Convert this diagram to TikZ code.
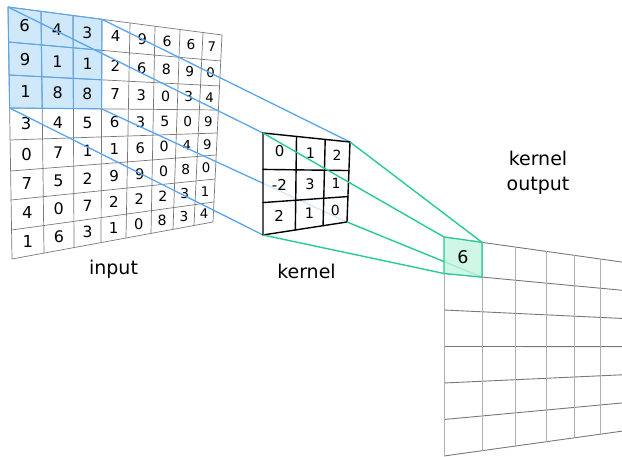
\documentclass[tikz,border=0pt]{standalone}
\usepackage{fontspec}
\setmainfont{DejaVu Sans}
\usetikzlibrary{calc}
\definecolor{cblue}{RGB}{88,166,242}
\definecolor{cbluefill}{RGB}{207,233,251}
\definecolor{cgreen}{RGB}{38,204,150}
\definecolor{cgreenfill}{RGB}{196,245,224}
\definecolor{gridgray}{RGB}{120,120,120}
\definecolor{gridlight}{RGB}{175,175,175}
\begin{document}
\begin{tikzpicture}[x=1pt,y=-1pt,
  ingrid/.style={draw=gridgray,line width=0.7pt},
  hlgrid/.style={draw=cblue,line width=1pt},
  bline/.style={draw=cblue,line width=1.3pt},
  gline/.style={draw=cgreen,line width=1.4pt},
  kline/.style={draw=black,line width=1.4pt,line cap=round},
  ohline/.style={draw=gridgray,line width=0.9pt},
  ovline/.style={draw=gridlight,line width=1pt},
  lbl/.style={font=\fontsize{19}{25}\selectfont,inner sep=0pt},
  digit/.style={inner sep=0pt}]
\useasboundingbox (0,0) rectangle (622,457);

% ---------- input grid geometry ----------
\foreach \i/\tx/\bx in {0/8/12,1/41/44,2/73/74,3/102/101,4/130/126,5/155/151,6/180/173,7/203/194,8/222/213} {
  \pgfmathsetmacro\ty{7+28*(\tx-8)/214}
  \pgfmathsetmacro\by{259-37*(\bx-12)/201}
  \coordinate (IT\i) at (\tx,\ty);
  \coordinate (IB\i) at (\bx,\by);
}
\foreach \j/\ly/\ry in {0/7/35,1/42/61,2/75/86,3/108/110,4/140/133,5/171/155,6/200/179,7/230/202,8/259/222} {
  \pgfmathsetmacro\lx{8+4*(\ly-7)/252}
  \pgfmathsetmacro\rx{222-9*(\ry-35)/187}
  \coordinate (IL\j) at (\lx,\ly);
  \coordinate (IR\j) at (\rx,\ry);
}
\foreach \i in {0,...,8} {
  \foreach \j in {0,...,8} {
    \coordinate (P-\i-\j) at (intersection cs: first line={(IT\i)--(IB\i)}, second line={(IL\j)--(IR\j)});
  }
}

% highlight
\fill[cbluefill] (P-0-0)--(P-3-0)--(P-3-3)--(P-0-3)--cycle;
\foreach \j in {0,...,8} \draw[ingrid] (P-0-\j)--(P-8-\j);
\foreach \i in {0,...,8} \draw[ingrid] (P-\i-0)--(P-\i-8);
\foreach \k in {0,...,3} {
  \draw[hlgrid] (P-0-\k)--(P-3-\k);
  \draw[hlgrid] (P-\k-0)--(P-\k-3);
}

% input digits
\foreach \row [count=\j from 0] in {{6,4,3,4,9,6,6,7},{9,1,1,2,6,8,9,0},{1,8,8,7,3,0,3,4},{3,4,5,6,3,5,0,9},{0,7,1,1,6,0,4,9},{7,5,2,9,9,0,8,0},{4,0,7,2,2,2,3,1},{1,6,3,1,0,8,3,4}} {
  \foreach \d [count=\i from 0] in \row {
    \pgfmathtruncatemacro\ii{\i+1}
    \pgfmathtruncatemacro\jj{\j+1}
    \pgfmathsetmacro\fs{16.4-0.45*\i}
    \node[digit,font=\fontsize{\fs}{\fs}\selectfont] (in-\i-\j) at ($(P-\i-\j)!0.5!(P-\ii-\jj)$) {\d};
  }
}

% ---------- kernel geometry ----------
\foreach \i/\t in {0/0,1/0.385,2/0.715,3/1} {
  \coordinate (KT\i) at ($(263,133)!\t!(350,142)$);
  \coordinate (KB\i) at ($(263,235)!\t!(347,222)$);
}
\foreach \j/\t in {0/0,1/0.357,2/0.682,3/1} {
  \coordinate (KL\j) at ($(263,133)!\t!(263,235)$);
  \coordinate (KR\j) at ($(350,142)!\t!(347,222)$);
}
\foreach \i in {0,...,3} {
  \foreach \j in {0,...,3} {
    \coordinate (K-\i-\j) at (intersection cs: first line={(KT\i)--(KB\i)}, second line={(KL\j)--(KR\j)});
  }
}

% ---------- output geometry ----------
\foreach \j in {0,...,6} {
  \pgfmathsetmacro\ly{237+36.5*\j}
  \pgfmathsetmacro\ry{\ly+(347-\ly)*0.22791}
  \coordinate (OL\j) at (444,\ly);
  \coordinate (OR\j) at (622,\ry);
}
\foreach \i/\t in {0/0,1/0.21348,2/0.39888,3/0.57303,4/0.73034,5/0.87640} {
  \coordinate (OT\i) at ($(OL0)!\t!(OR0)$);
  \coordinate (OB\i) at ($(OL6)!\t!(OR6)$);
}
\coordinate (O-0-0) at (OL0);
\coordinate (O-0-1) at (OL1);
\coordinate (O-1-0) at (OT1);
\coordinate (O-1-1) at ($(OL1)!0.21348!(OR1)$);

% blue connectors
\draw[bline] (P-0-0) -- (K-0-0);
\draw[bline] (P-3-0) -- (K-3-0);
\draw[bline] (P-0-3) -- (K-0-3);
\draw[bline] (P-3-3) -- (K-3-3);

% output grid
\foreach \j in {0,...,6} \draw[ohline] (OL\j)--(OR\j);
\foreach \i in {0,...,5} \draw[ovline] (OT\i)--(OB\i);

% kernel
\fill[white,fill opacity=0.75] (K-0-0)--(K-3-0)--(K-3-3)--(K-0-3)--cycle;
\foreach \k in {0,...,3} {
  \draw[kline] (K-0-\k)--(K-3-\k);
  \draw[kline] (K-\k-0)--(K-\k-3);
}
\foreach \row [count=\j from 0] in {{0,1,2},{-2,3,1},{2,1,0}} {
  \foreach \d [count=\i from 0] in \row {
    \pgfmathtruncatemacro\ii{\i+1}
    \pgfmathtruncatemacro\jj{\j+1}
    \pgfmathsetmacro\fs{15-0.5*\i}
    \node[digit,font=\fontsize{\fs}{\fs}\selectfont] (k-\i-\j) at ($(K-\i-\j)!0.5!(K-\ii-\jj)$) {\d};
  }
}

% green connectors
\draw[gline] (K-0-0) -- (O-0-0);
\draw[gline] (K-3-0) -- (O-1-0);
\draw[gline] (K-0-3) -- (O-0-1);
\draw[gline] (K-3-3) -- (O-1-1);

% output cell
\fill[cgreenfill,fill opacity=0.8] (O-0-0)--(O-1-0)--(O-1-1)--(O-0-1)--cycle;
\draw[cgreen,line width=1.2pt] (O-0-0)--(O-1-0)--(O-1-1)--(O-0-1)--cycle;
\node[digit,font=\fontsize{17.5}{17.5}\selectfont] (out-0-0) at ($(O-0-0)!0.5!(O-1-1)$) {6};

% labels
\node[lbl,anchor=base] (linput) at (113.5,275) {input};
\node[lbl,anchor=base] (lkernel) at (306.5,279) {kernel};
\node[lbl,align=center] (loutput) at (538,172.5) {kernel\\output};
\end{tikzpicture}
\end{document}
